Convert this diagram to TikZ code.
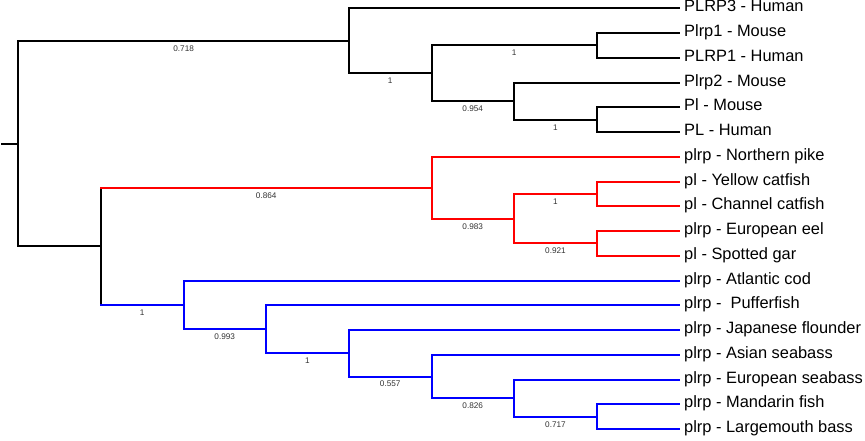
\documentclass[tikz,border=0pt]{standalone}
\usepackage{fontspec}
\setmainfont{Liberation Sans}
\begin{document}
\begin{tikzpicture}[x=1pt,y=-1pt,br/.style={line width=2pt,line cap=rect},leaf/.style={anchor=west,inner xsep=5pt,inner ysep=0pt,font=\fontsize{16.4}{18}\selectfont,text height=0.72em,text depth=0pt},bs/.style={pos=0.75,font=\fontsize{8.2}{9}\selectfont,text=black!80,yshift=-7.6pt}]
\useasboundingbox (0,0) rectangle (865,440);
% inner points of the tree
\coordinate (stub) at (1.5,143.6);
\coordinate (root) at (18.3,143.6);
\coordinate (n1) at (349,40.8);
\coordinate (n2) at (431.5,73.3);
\coordinate (n3) at (597,45.4);
\coordinate (n4) at (514,101.1);
\coordinate (n5) at (597,119.7);
\coordinate (n6) at (101,246.4);
\coordinate (n7) at (431.5,187.8);
\coordinate (n8) at (514,218.7);
\coordinate (n9) at (597,193.9);
\coordinate (n10) at (597,243.4);
\coordinate (n11) at (183.5,304.9);
\coordinate (n12) at (266,329.3);
\coordinate (n13) at (349,353.3);
\coordinate (n14) at (431.5,376.5);
\coordinate (n15) at (514,398.1);
\coordinate (n16) at (597,416.7);

% leaves
\node[leaf] (plrp3h) at (679,8.3) {PLRP3 - Human};
\node[leaf] (plrp1m) at (679,33.05) {Plrp1 - Mouse};
\node[leaf] (plrp1h) at (679,57.8) {PLRP1 - Human};
\node[leaf] (plrp2m) at (679,82.55) {Plrp2 - Mouse};
\node[leaf] (plm) at (679,107.3) {Pl - Mouse};
\node[leaf] (plh) at (679,132.05) {PL - Human};
\node[leaf] (pike) at (679,156.8) {plrp - Northern pike};
\node[leaf] (ycat) at (679,181.55) {pl - Yellow catfish};
\node[leaf] (ccat) at (679,206.3) {pl - Channel catfish};
\node[leaf] (eel) at (679,231.05) {plrp - European eel};
\node[leaf] (gar) at (679,255.8) {pl - Spotted gar};
\node[leaf] (cod) at (679,280.55) {plrp - Atlantic cod};
\node[leaf] (puffer) at (679,305.3) {plrp -\ \ Pufferfish};
\node[leaf] (flounder) at (679,330.05) {plrp - Japanese flounder};
\node[leaf] (aseabass) at (679,354.8) {plrp - Asian seabass};
\node[leaf] (eseabass) at (679,379.55) {plrp - European seabass};
\node[leaf] (mandarin) at (679,404.3) {plrp - Mandarin fish};
\node[leaf] (lmbass) at (679,429.05) {plrp - Largemouth bass};

% mammals
\draw[br] (stub) -- (root);
\draw[br] (root) |- (n1) node[bs] {0.718};
\draw[br] (root) |- (n6);
\draw[br] (n1) |- (plrp3h);
\draw[br] (n1) |- (n2) node[bs] {1};
\draw[br] (n2) |- (n3) node[bs] {1};
\draw[br] (n2) |- (n4) node[bs] {0.954};
\draw[br] (n3) |- (plrp1m);
\draw[br] (n3) |- (plrp1h);
\draw[br] (n4) |- (plrp2m);
\draw[br] (n4) |- (n5) node[bs] {1};
\draw[br] (n5) |- (plm);
\draw[br] (n5) |- (plh);

% fish
\draw[br] (n7 -| n6) -- (n11 -| n6);
\draw[br] [draw=red] (n7 -| n6) -- (n7) node[bs,pos=0.5] {0.864};
\draw[br] [draw=blue] (n11 -| n6) -- (n11) node[bs,pos=0.5] {1};

\draw[br] [draw=red] (n7) |- (pike);
\draw[br] [draw=red] (n7) |- (n8) node[bs] {0.983};
\draw[br] [draw=red] (n8) |- (n9) node[bs] {1};
\draw[br] [draw=red] (n8) |- (n10) node[bs] {0.921};
\draw[br] [draw=red] (n9) |- (ycat);
\draw[br] [draw=red] (n9) |- (ccat);
\draw[br] [draw=red] (n10) |- (eel);
\draw[br] [draw=red] (n10) |- (gar);

\draw[br] [draw=blue] (n11) |- (cod);
\draw[br] [draw=blue] (n11) |- (n12) node[bs] {0.993};
\draw[br] [draw=blue] (n12) |- (puffer);
\draw[br] [draw=blue] (n12) |- (n13) node[bs] {1};
\draw[br] [draw=blue] (n13) |- (flounder);
\draw[br] [draw=blue] (n13) |- (n14) node[bs] {0.557};
\draw[br] [draw=blue] (n14) |- (aseabass);
\draw[br] [draw=blue] (n14) |- (n15) node[bs] {0.826};
\draw[br] [draw=blue] (n15) |- (eseabass);
\draw[br] [draw=blue] (n15) |- (n16) node[bs] {0.717};
\draw[br] [draw=blue] (n16) |- (mandarin);
\draw[br] [draw=blue] (n16) |- (lmbass);
\end{tikzpicture}
\end{document}
